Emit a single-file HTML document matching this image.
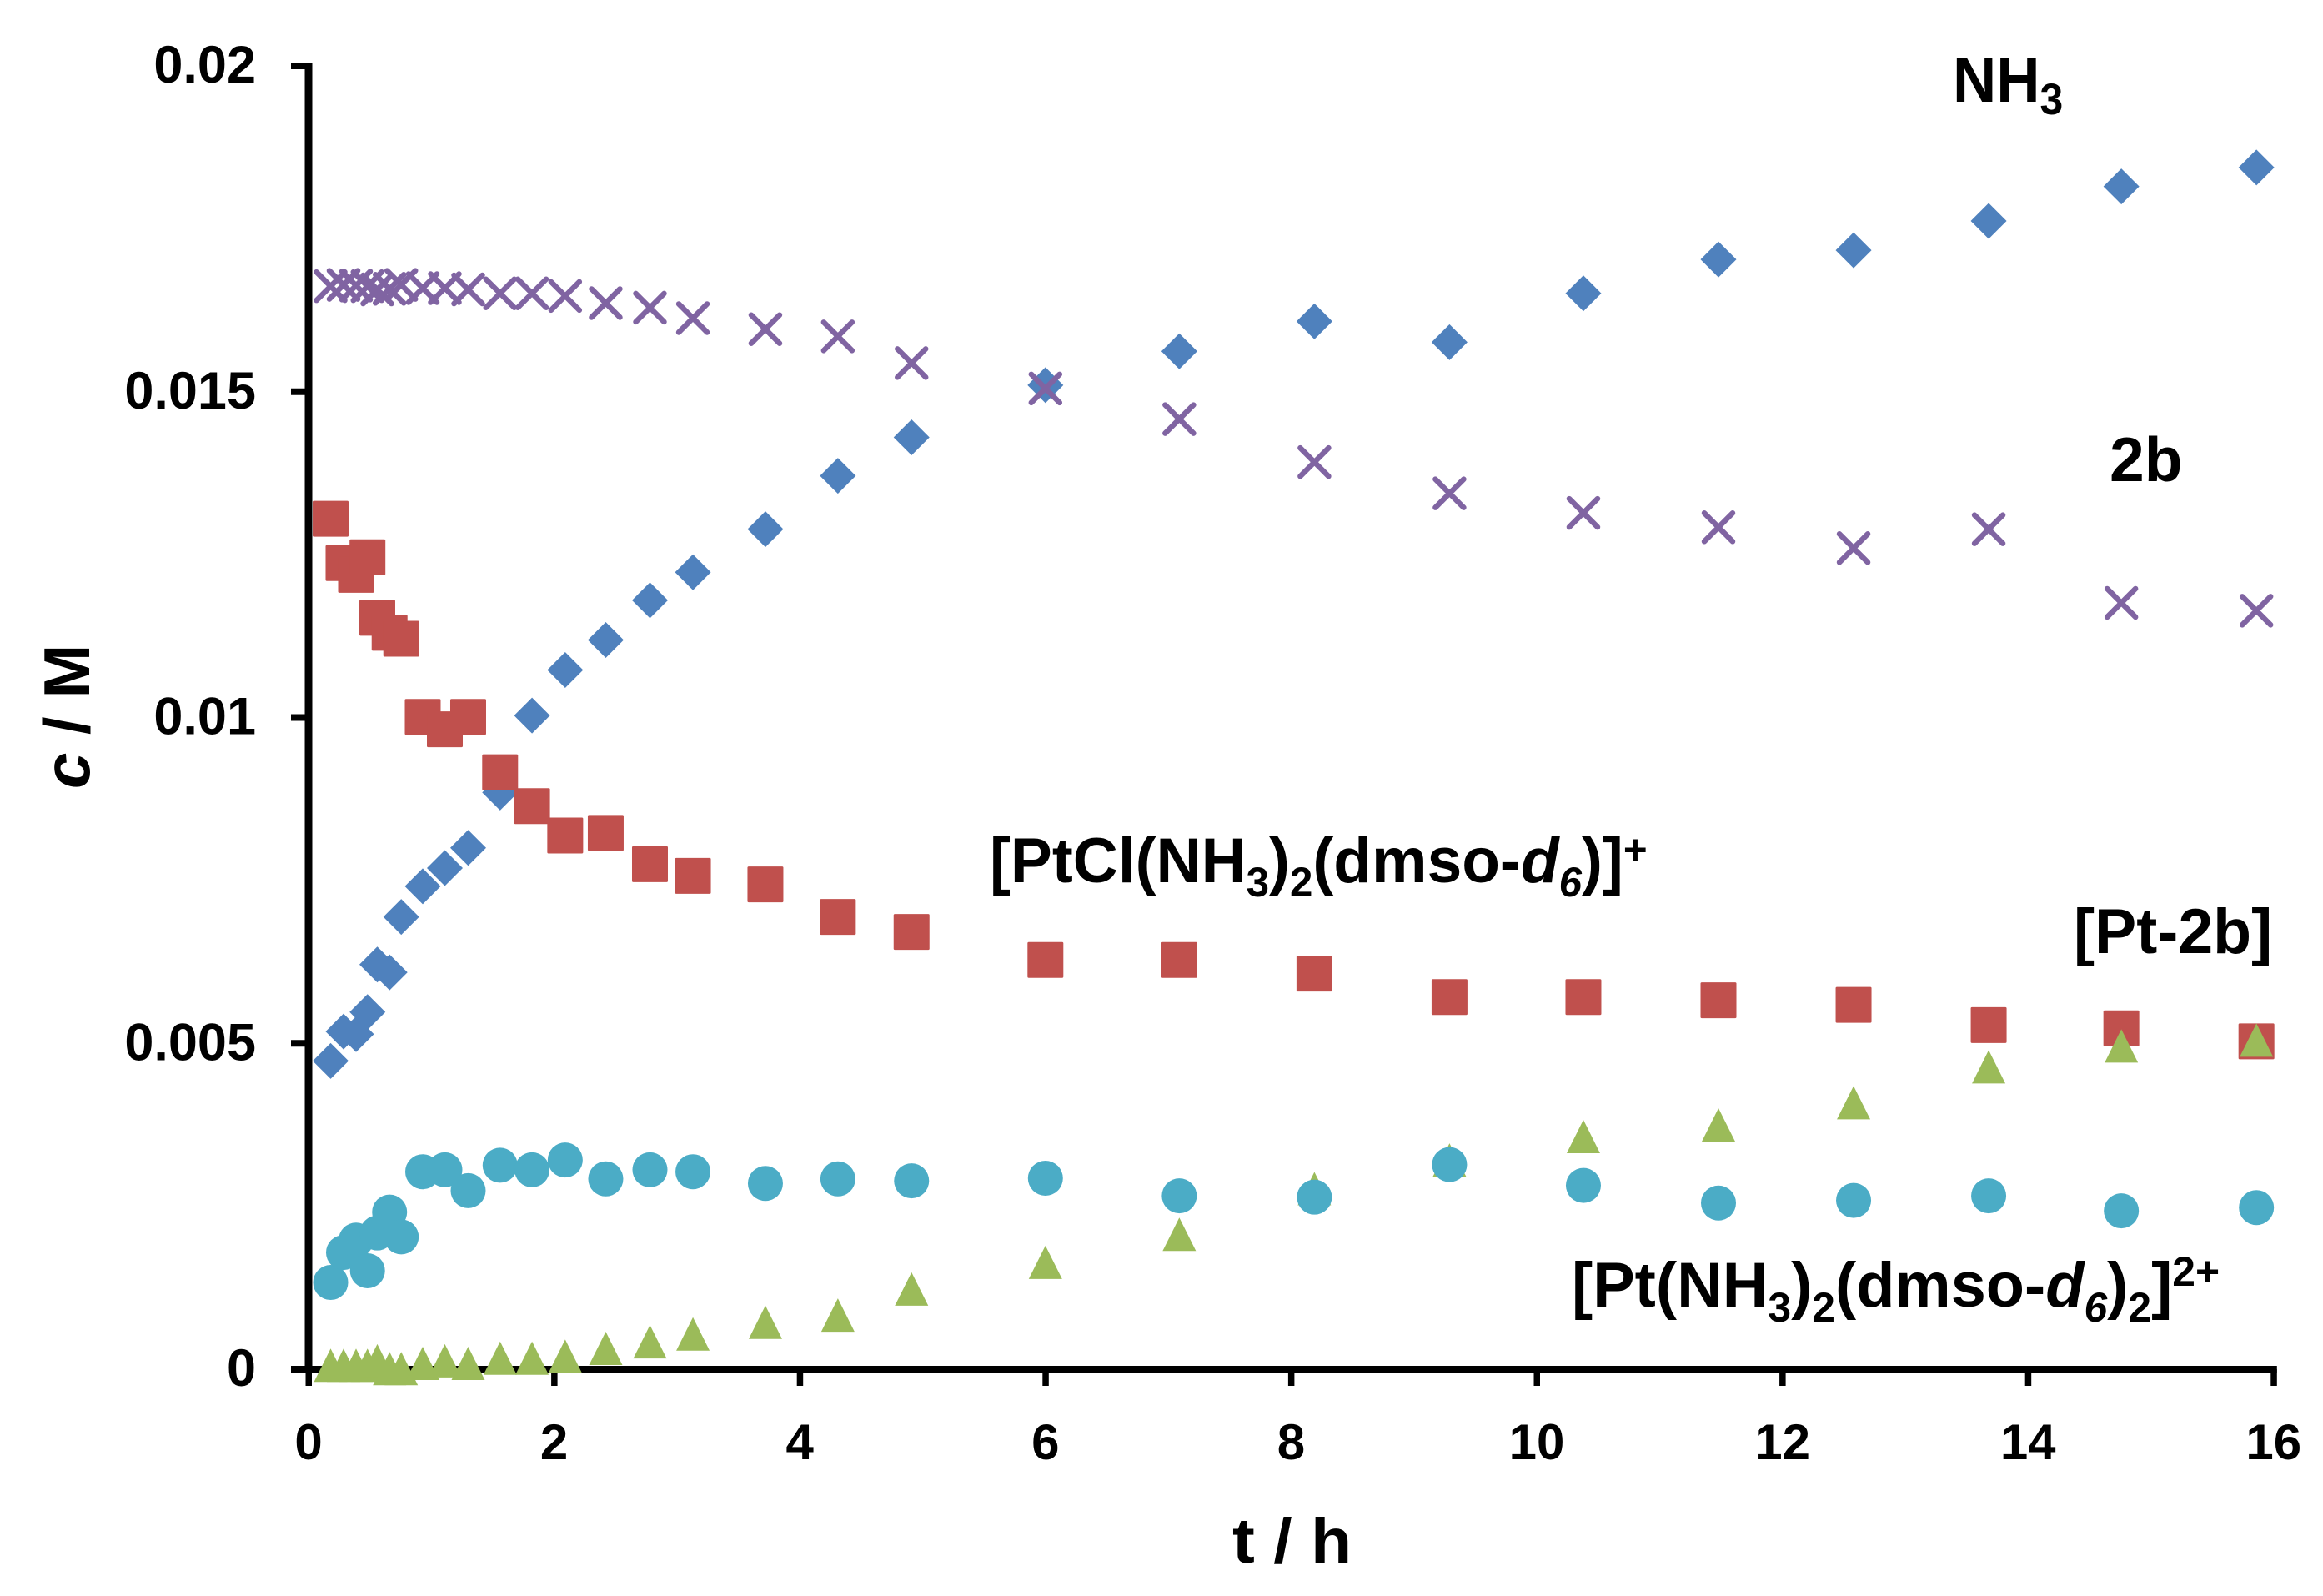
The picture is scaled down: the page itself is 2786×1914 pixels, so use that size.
<!DOCTYPE html>
<html>
<head>
<meta charset="utf-8">
<style>
html,body{margin:0;padding:0;background:#fff;width:2786px;height:1914px;overflow:hidden}
svg{display:block}
text{font-family:"Liberation Sans",sans-serif;font-weight:bold;fill:#000}
</style>
</head>
<body>
<svg id="chart" xmlns="http://www.w3.org/2000/svg" width="2786" height="1914" viewBox="0 0 2786 1914">
  <rect x="0" y="0" width="2786" height="1914" fill="#fff"/>
  <g id="axes"></g>
  <g id="marks"></g>
  <text transform="translate(1478 1874) scale(1.06 1)" font-size="76">t / h</text>
  <text transform="translate(107 946) rotate(-90)" font-size="78"><tspan font-style="italic">c</tspan> / M</text>
  <text transform="translate(2342 122) scale(0.94 1)" font-size="77">NH<tspan font-size="53" dy="15">3</tspan></text>
  <text transform="translate(2530 577)" font-size="75">2b</text>
  <text transform="translate(2487 1143) scale(0.99 1)" font-size="76">[Pt-2b]</text>
  <text transform="translate(1187 1058) scale(0.985 1)" font-size="76">[PtCl(NH<tspan font-size="50" dy="17">3</tspan><tspan dy="-17">)</tspan><tspan font-size="50" dy="17">2</tspan><tspan dy="-17">(dmso-</tspan><tspan font-style="italic">d</tspan><tspan font-size="50" font-style="italic" dy="17">6</tspan><tspan dy="-17">)]</tspan><tspan font-size="50" dy="-22">+</tspan></text>
  <text transform="translate(1885 1567) scale(0.996 1)" font-size="76">[Pt(NH<tspan font-size="50" dy="18">3</tspan><tspan dy="-18">)</tspan><tspan font-size="50" dy="18">2</tspan><tspan dy="-18">(dmso-</tspan><tspan font-style="italic">d</tspan><tspan font-size="50" font-style="italic" dy="18">6</tspan><tspan dy="-18">)</tspan><tspan font-size="50" dy="18">2</tspan><tspan dy="-18">]</tspan><tspan font-size="50" dy="-25">2+</tspan></text>
</svg>
<script>
const timeValues = [0.18,0.285,0.387,0.48,0.56,0.66,0.755,0.93,1.11,1.30,1.56,1.82,2.09,2.42,2.78,3.13,3.72,4.31,4.91,6.0,7.09,8.19,9.29,10.38,11.48,12.58,13.68,14.76,15.86];
const nh3Values = [.00473,.00518,.00514,.00548,.00621,.00609,.00694,.00741,.00769,.00800,.00885,.01003,.01073,.01119,.01180,.01223,.01289,.01371,.01430,.01510,.01562,.01608,.01576,.01651,.01703,.01717,.01762,.01815,.01844];
const ptClValues = [.01305,.01237,.01219,.01246,.01153,.01130,.01121,.01001,.00982,.01001,.00916,.00864,.00819,.00823,.00775,.00757,.00744,.00694,.00671,.00628,.00628,.00607,.00571,.00571,.00566,.00559,.00528,.00523,.00503];
const ptDmsoValues = [.00006,.00006,.00006,.00006,.00013,.00001,.00001,.00009,.00013,.00009,.00017,.00017,.00020,.00032,.00042,.00054,.00072,.00083,.00123,.00164,.00207,.00277,.00321,.00357,.00375,.00409,.00464,.00496,.00505];
const compound2bValues = [.01662,.01664,.01663,.01662,.01657,.01658,.01664,.01659,.01659,.01657,.01651,.01651,.01647,.01636,.01629,.01613,.01596,.01585,.01544,.01505,.01458,.01392,.01344,.01314,.01292,.01260,.01289,.01176,.01164];
const ptTwoBValues = [.00133,.00179,.00198,.00151,.00209,.00241,.00203,.00303,.00306,.00274,.00313,.00306,.00321,.00292,.00306,.00303,.00285,.00292,.00289,.00293,.00266,.00264,.00314,.00282,.00255,.00259,.00266,.00243,.00248];
const xTickValues = [0,2,4,6,8,10,12,14,16];
const yTickValues = [0,0.005,0.01,0.015,0.02];
const yTickLabels = ["0","0.005","0.01","0.015","0.02"];

const NS = "http://www.w3.org/2000/svg";
const axesGroup = document.getElementById("axes");
const marksGroup = document.getElementById("marks");
function xScale(t){ return 370 + t * 147.3; }
function yScale(c){ return 1642 - c * 78150; }
function make(tag, attrs, parent){
  const el = document.createElementNS(NS, tag);
  for (const k in attrs) el.setAttribute(k, attrs[k]);
  parent.appendChild(el);
  return el;
}

const yAxisLine = make("rect", {x:365.5, y:yScale(0.02)-4, width:9, height:yScale(0)-yScale(0.02)+8, fill:"#000"}, axesGroup);


const xAxisLine = make("rect", {x:xScale(0), y:yScale(0)-4, width:xScale(16)-xScale(0)+4, height:8.5, fill:"#000"}, axesGroup);



xTickValues.forEach(function(v){
  const tick = make("rect", {x:xScale(v)-3.5, y:yScale(0), width:7.5, height:20, fill:"#000"}, axesGroup);
  
  
  const label = make("text", {x:xScale(v), y:1750, "text-anchor":"middle", "font-size":60}, axesGroup);
  
  
  label.textContent = String(v);
});
yTickValues.forEach(function(v, i){
  const tick = make("rect", {x:349, y:yScale(v)-4, width:21, height:8, fill:"#000"}, axesGroup);
  
  
  const label = make("text", {x:307, y:yScale(v)+20, "text-anchor":"end", "font-size":63}, axesGroup);
  
  
  label.textContent = yTickLabels[i];
});

const nh3Group = make("g", {fill:"#4F81BD"}, marksGroup);


nh3Values.forEach(function(c, i){
  const x = xScale(timeValues[i]), y = yScale(c);
  const m = make("path", {d:"M"+x+" "+(y-21.5)+"L"+(x+21.5)+" "+y+"L"+x+" "+(y+21.5)+"L"+(x-21.5)+" "+y+"Z"}, nh3Group);
  
  
});

const ptClGroup = make("g", {fill:"#C0504D"}, marksGroup);


ptClValues.forEach(function(c, i){
  const m = make("rect", {x:xScale(timeValues[i])-21.5, y:yScale(c)-21.5, width:43, height:43, rx:1.5}, ptClGroup);
  
  
});

const ptDmsoGroup = make("g", {fill:"#9BBB59"}, marksGroup);


ptDmsoValues.forEach(function(c, i){
  const x = xScale(timeValues[i]), y = yScale(c);
  const m = make("path", {d:"M"+x+" "+(y-20)+"L"+(x+20)+" "+(y+20)+"L"+(x-20)+" "+(y+20)+"Z"}, ptDmsoGroup);
  
  
});

const compound2bGroup = make("g", {fill:"none", stroke:"#8064A2", "stroke-width":6.5, "stroke-linecap":"round"}, marksGroup);


compound2bValues.forEach(function(c, i){
  const x = xScale(timeValues[i]), y = yScale(c), r = 17;
  const m = make("path", {d:"M"+(x-r)+" "+(y-r)+"L"+(x+r)+" "+(y+r)+"M"+(x+r)+" "+(y-r)+"L"+(x-r)+" "+(y+r)}, compound2bGroup);
  
  
});

const ptTwoBGroup = make("g", {fill:"#4BACC6"}, marksGroup);


ptTwoBValues.forEach(function(c, i){
  const m = make("circle", {cx:xScale(timeValues[i]), cy:yScale(c), r:21}, ptTwoBGroup);
  
  
});
</script>
</body>
</html>
